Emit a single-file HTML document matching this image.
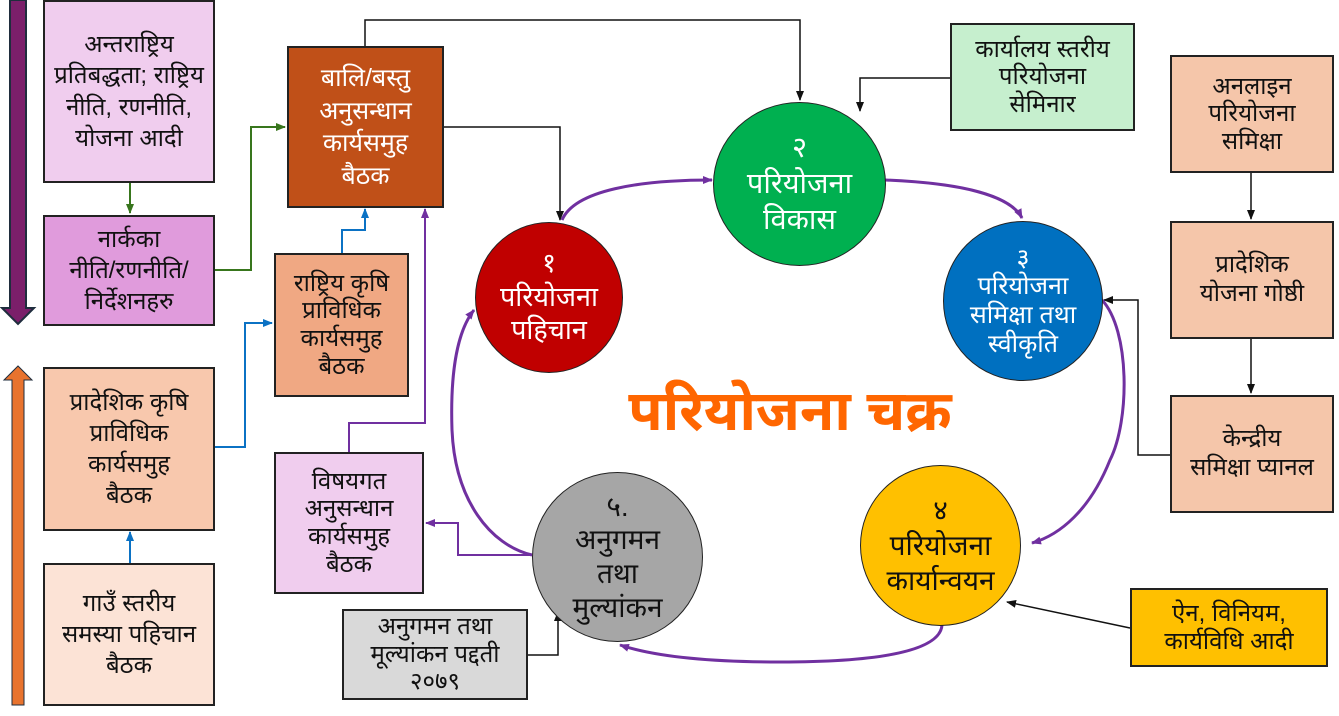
<!DOCTYPE html>
<html><head><meta charset="utf-8"><style>
body{margin:0;width:1339px;height:716px;background:#fff;position:relative;overflow:hidden;font-family:"Liberation Sans","Noto Sans Devanagari","Lohit Devanagari",sans-serif;}
.b{position:absolute;box-sizing:border-box;border:2px solid #222;display:flex;align-items:center;justify-content:center;text-align:center;font-size:24px;line-height:1.3;color:#111;white-space:nowrap;}
.c{position:absolute;box-sizing:border-box;border:1.5px solid #222;border-radius:50%;display:flex;align-items:center;justify-content:center;text-align:center;font-size:27px;line-height:1.25;white-space:nowrap;}
svg{position:absolute;left:0;top:0}
</style></head><body>
<svg width="1339" height="716">
<defs>
<marker id="k" markerUnits="userSpaceOnUse" markerWidth="10" markerHeight="10" refX="9" refY="5" orient="auto"><path d="M0,1L10,5L0,9z" fill="#111"/></marker>
<marker id="g" markerUnits="userSpaceOnUse" markerWidth="10" markerHeight="10" refX="9" refY="5" orient="auto"><path d="M0,1L10,5L0,9z" fill="#38761d"/></marker>
<marker id="bl" markerUnits="userSpaceOnUse" markerWidth="10" markerHeight="10" refX="9" refY="5" orient="auto"><path d="M0,1L10,5L0,9z" fill="#0b72c4"/></marker>
<marker id="p" markerUnits="userSpaceOnUse" markerWidth="10" markerHeight="10" refX="9" refY="5" orient="auto"><path d="M0,1L10,5L0,9z" fill="#7030a0"/></marker>
</defs>
<path d="M10,0H26V308H34L18,324L2,308H10Z" fill="#7b1f6a" stroke="#1f2d3d" stroke-width="2"/>
<path d="M12,705H24V380H32L18,366L4,380H12Z" fill="#e8732e" stroke="#1f2d3d" stroke-width="1"/>
<g fill="none" stroke-width="2">
<path d="M130,182V213" stroke="#38761d" marker-end="url(#g)"/>
<path d="M214,270H251V127H285" stroke="#38761d" marker-end="url(#g)"/>
<path d="M342,253V230H365V209" stroke="#0b72c4" marker-end="url(#bl)"/>
<path d="M215,447H245V323H272" stroke="#0b72c4" marker-end="url(#bl)"/>
<path d="M130,563V532" stroke="#0b72c4" marker-end="url(#bl)"/>
<path d="M349,452V423H425V209" stroke="#7030a0" marker-end="url(#p)"/>
<path d="M532,555H458V523H426" stroke="#7030a0" marker-end="url(#p)"/>
<path d="M365,46V20H800V100" stroke="#111" stroke-width="1.5" marker-end="url(#k)"/>
<path d="M444,127H560V220" stroke="#111" stroke-width="1.5" marker-end="url(#k)"/>
<path d="M950,78H860V111" stroke="#111" stroke-width="1.5" marker-end="url(#k)"/>
<path d="M527,655H558V612" stroke="#111" stroke-width="1.5" marker-end="url(#k)"/>
<path d="M1251,172V219" stroke="#111" stroke-width="1.5" marker-end="url(#k)"/>
<path d="M1251,338V393" stroke="#111" stroke-width="1.5" marker-end="url(#k)"/>
<path d="M1170,455H1138V300H1104" stroke="#111" stroke-width="1.5" marker-end="url(#k)"/>
<path d="M1130,628L1007,602" stroke="#111" stroke-width="1.5" marker-end="url(#k)"/>
<g stroke="#7030a0" stroke-width="3">
<path d="M562,220C575,190 640,180 712,180" marker-end="url(#p)"/>
<path d="M885,180C960,183 1010,195 1022,218" marker-end="url(#p)"/>
<path d="M1102,300C1130,330 1130,420 1110,460C1090,510 1060,535 1032,543" marker-end="url(#p)"/>
<path d="M942,625C940,655 860,662 780,662C700,662 650,655 620,645" marker-end="url(#p)"/>
<path d="M532,555C490,545 455,500 452,430C450,370 458,330 474,310" marker-end="url(#p)"/>
</g>
</g>
</svg>
<div class="b" style="left:43px;top:0;width:172px;height:183px;background:#f0cdee">अन्तराष्ट्रिय<br>प्रतिबद्धता; राष्ट्रिय<br>नीति, रणनीति,<br>योजना आदी</div>
<div class="b" style="left:43px;top:215px;width:172px;height:111px;background:#e09bdc">नार्कका<br>नीति/रणनीति/<br>निर्देशनहरु</div>
<div class="b" style="left:43px;top:367px;width:172px;height:164px;background:#f8c8ad">प्रादेशिक कृषि<br>प्राविधिक<br>कार्यसमुह<br>बैठक</div>
<div class="b" style="left:43px;top:563px;width:172px;height:143px;background:#fce3d6">गाउँ स्तरीय<br>समस्या पहिचान<br>बैठक</div>
<div class="b" style="left:287px;top:46px;width:157px;height:162px;background:#c05018;color:#fff;font-size:25px">बालि/बस्तु<br>अनुसन्धान<br>कार्यसमुह<br>बैठक</div>
<div class="b" style="left:274px;top:253px;width:135px;height:144px;background:#f0a883;line-height:1.15">राष्ट्रिय कृषि<br>प्राविधिक<br>कार्यसमुह<br>बैठक</div>
<div class="b" style="left:274px;top:452px;width:150px;height:142px;background:#f0cdee;line-height:1.15">विषयगत<br>अनुसन्धान<br>कार्यसमुह<br>बैठक</div>
<div class="b" style="left:342px;top:609px;width:186px;height:91px;background:#d9d9d9;line-height:1.15">अनुगमन तथा<br>मूल्यांकन पद्दती<br>२०७९</div>
<div class="b" style="left:950px;top:23px;width:185px;height:108px;background:#c6efce;line-height:1.15">कार्यालय स्तरीय<br>परियोजना<br>सेमिनार</div>
<div class="b" style="left:1170px;top:55px;width:164px;height:118px;background:#f5c6aa;line-height:1.15">अनलाइन<br>परियोजना<br>समिक्षा</div>
<div class="b" style="left:1170px;top:221px;width:164px;height:118px;background:#f5c6aa;line-height:1.2">प्रादेशिक<br>योजना गोष्ठी</div>
<div class="b" style="left:1170px;top:395px;width:164px;height:118px;background:#f5c6aa;line-height:1.2">केन्द्रीय<br>समिक्षा प्यानल</div>
<div class="b" style="left:1130px;top:588px;width:198px;height:79px;background:#ffc000;line-height:1.15">ऐन, विनियम,<br>कार्यविधि आदी</div>
<div class="c" style="left:475px;top:222px;width:148px;height:151px;background:#c00000;color:#fff">१<br>परियोजना<br>पहिचान</div>
<div class="c" style="left:713px;top:102px;width:173px;height:164px;background:#00b050;color:#fff;font-size:29px">२<br>परियोजना<br>विकास</div>
<div class="c" style="left:943px;top:221px;width:160px;height:160px;background:#0070c0;color:#fff;font-size:25px;line-height:1.15">३<br>परियोजना<br>समिक्षा तथा<br>स्वीकृति</div>
<div class="c" style="left:860px;top:465px;width:161px;height:161px;background:#ffc000;color:#111;font-size:28px">४<br>परियोजना<br>कार्यान्वयन</div>
<div class="c" style="left:532px;top:472px;width:171px;height:170px;background:#a6a6a6;color:#111;font-size:28px;line-height:1.2">५.<br>अनुगमन<br>तथा<br>मुल्यांकन</div>
<div style="position:absolute;left:590px;top:378px;width:400px;text-align:center;font-size:56px;font-weight:bold;color:#ff6600">परियोजना चक्र</div>
</body></html>
